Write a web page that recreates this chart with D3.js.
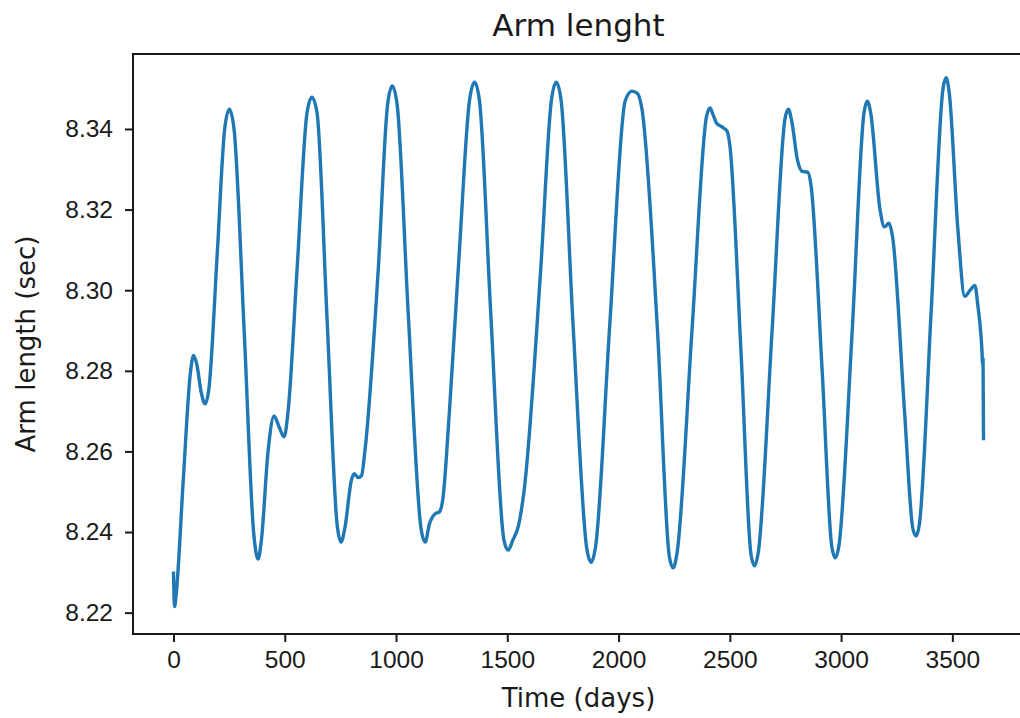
<!DOCTYPE html>
<html>
<head>
<meta charset="utf-8">
<script src="https://cdn.jsdelivr.net/npm/d3@7"></script>
<style>
  html, body { margin: 0; padding: 0; background: #fff; overflow: hidden; }
  svg { display: block; font-family: "DejaVu Sans", sans-serif; }
</style>
</head>
<body>
<svg id="chart" width="1020" height="718"></svg>
<script>
// data
const days = [
  0, 2, 5, 12, 44, 75, 90, 105, 125, 142, 160, 196, 230, 251, 272, 318, 360, 380, 395, 425,
  452, 475, 497, 515, 556, 600, 622, 645, 690, 735, 753, 770, 800, 812, 830, 845, 860, 920, 962, 983,
  1005, 1055, 1112, 1131, 1150, 1175, 1195, 1210, 1240, 1285, 1330, 1353, 1375, 1425, 1485, 1504, 1525, 1550, 1575, 1650,
  1698, 1720, 1742, 1795, 1857, 1877, 1897, 1960, 2030, 2060, 2085, 2105, 2175, 2228, 2245, 2262, 2330, 2395, 2411, 2425,
  2440, 2465, 2487, 2500, 2550, 2595, 2611, 2628, 2690, 2748, 2763, 2778, 2805, 2825, 2850, 2865, 2915, 2958, 2974, 2990,
  3050, 3103, 3118, 3133, 3175, 3195, 3215, 3232, 3285, 3322, 3337, 3352, 3405, 3458, 3472, 3486, 3525, 3556, 3580, 3601,
  3615, 3633, 3636, 3638, 3640
];
const armLength = [
  8.2298, 8.2250, 8.2215, 8.2245, 8.2530, 8.2790, 8.2838, 8.2815, 8.2745, 8.2718, 8.2760, 8.3085, 8.3400, 8.3449, 8.3400, 8.2894, 8.2400, 8.2333, 8.2380, 8.2600,
  8.2688, 8.2660, 8.2636, 8.2700, 8.3058, 8.3440, 8.3479, 8.3440, 8.2930, 8.2420, 8.2375, 8.2410, 8.2530, 8.2545, 8.2535, 8.2540, 8.2600, 8.3050, 8.3460, 8.3507,
  8.3460, 8.2940, 8.2410, 8.2375, 8.2420, 8.2445, 8.2450, 8.2480, 8.2700, 8.3100, 8.3470, 8.3516, 8.3470, 8.2950, 8.2380, 8.2355, 8.2380, 8.2415, 8.2500, 8.3050,
  8.3470, 8.3516, 8.3470, 8.2920, 8.2360, 8.2325, 8.2365, 8.2910, 8.3470, 8.3494, 8.3488, 8.3450, 8.2900, 8.2340, 8.2311, 8.2345, 8.2900, 8.3430, 8.3452, 8.3435,
  8.3415, 8.3405, 8.3395, 8.3360, 8.2850, 8.2345, 8.2316, 8.2350, 8.2900, 8.3425, 8.3449, 8.3420, 8.3320, 8.3295, 8.3293, 8.3260, 8.2800, 8.2365, 8.2336, 8.2365,
  8.2900, 8.3440, 8.3469, 8.3440, 8.3200, 8.3157, 8.3166, 8.3130, 8.2700, 8.2410, 8.2390, 8.2420, 8.2950, 8.3500, 8.3527, 8.3490, 8.3150, 8.2985, 8.3000, 8.3012,
  8.2960, 8.2850, 8.2815, 8.2830, 8.2632
];
const xTicks = [0, 500, 1000, 1500, 2000, 2500, 3000, 3500];
const yTicks = [8.22, 8.24, 8.26, 8.28, 8.30, 8.32, 8.34];

const titleText = 'Arm lenght';
const xLabelText = 'Time (days)';
const yLabelText = 'Arm length (sec)';

const margin = { left: 133, top: 54, right: 1024, bottom: 634 };
const textColor = '#1a1a1a';

const svg = d3.select('#chart');

const x = d3.scaleLinear().domain([-182, 3822]).range([margin.left, margin.right]);
const y = d3.scaleLinear().domain([8.2147, 8.3586]).range([margin.bottom, margin.top]);

const points = days.map((d, i) => ({ day: d, value: armLength[i] }));

// the line
const line = d3.line()
  .x(d => x(d.day))
  .y(d => y(d.value))
  .curve(d3.curveMonotoneX);

svg.append('path')
  .datum(points)
  .attr('d', line)
  .attr('fill', 'none')
  .attr('stroke', '#1f77b4')
  .attr('stroke-width', 3.4)
  .attr('stroke-linejoin', 'round')
  .attr('stroke-linecap', 'square');

// frame
svg.append('rect')
  .attr('x', margin.left)
  .attr('y', margin.top)
  .attr('width', margin.right - margin.left)
  .attr('height', margin.bottom - margin.top)
  .attr('fill', 'none')
  .attr('stroke', textColor)
  .attr('stroke-width', 2);

// X axis
const xAxis = d3.axisBottom(x)
  .tickValues(xTicks)
  .tickSize(8)
  .tickPadding(9)
  .tickFormat(d3.format('d'));
const gx = svg.append('g')
  .attr('transform', 'translate(0,' + margin.bottom + ')')
  .call(xAxis);
gx.select('.domain').remove();
gx.selectAll('line').attr('stroke', textColor).attr('stroke-width', 2);
gx.selectAll('text').attr('fill', textColor).style('font-size', '24.5px');

// Y axis
const yAxis = d3.axisLeft(y)
  .tickValues(yTicks)
  .tickSize(8)
  .tickPadding(12)
  .tickFormat(d3.format('.2f'));
const gy = svg.append('g')
  .attr('transform', 'translate(' + margin.left + ',0)')
  .call(yAxis);
gy.select('.domain').remove();
gy.selectAll('line').attr('stroke', textColor).attr('stroke-width', 2);
gy.selectAll('text').attr('fill', textColor).style('font-size', '24.5px');

// title and labels
svg.append('text')
  .attr('x', (margin.left + margin.right) / 2)
  .attr('y', 36)
  .attr('text-anchor', 'middle')
  .attr('fill', textColor)
  .style('font-size', '31px')
  .text(titleText);

svg.append('text')
  .attr('x', (margin.left + margin.right) / 2)
  .attr('y', 707)
  .attr('text-anchor', 'middle')
  .attr('fill', textColor)
  .style('font-size', '26px')
  .text(xLabelText);

svg.append('text')
  .attr('transform', 'translate(35,' + ((margin.top + margin.bottom) / 2) + ') rotate(-90)')
  .attr('text-anchor', 'middle')
  .attr('fill', textColor)
  .style('font-size', '26px')
  .text(yLabelText);
</script>
</body>
</html>
